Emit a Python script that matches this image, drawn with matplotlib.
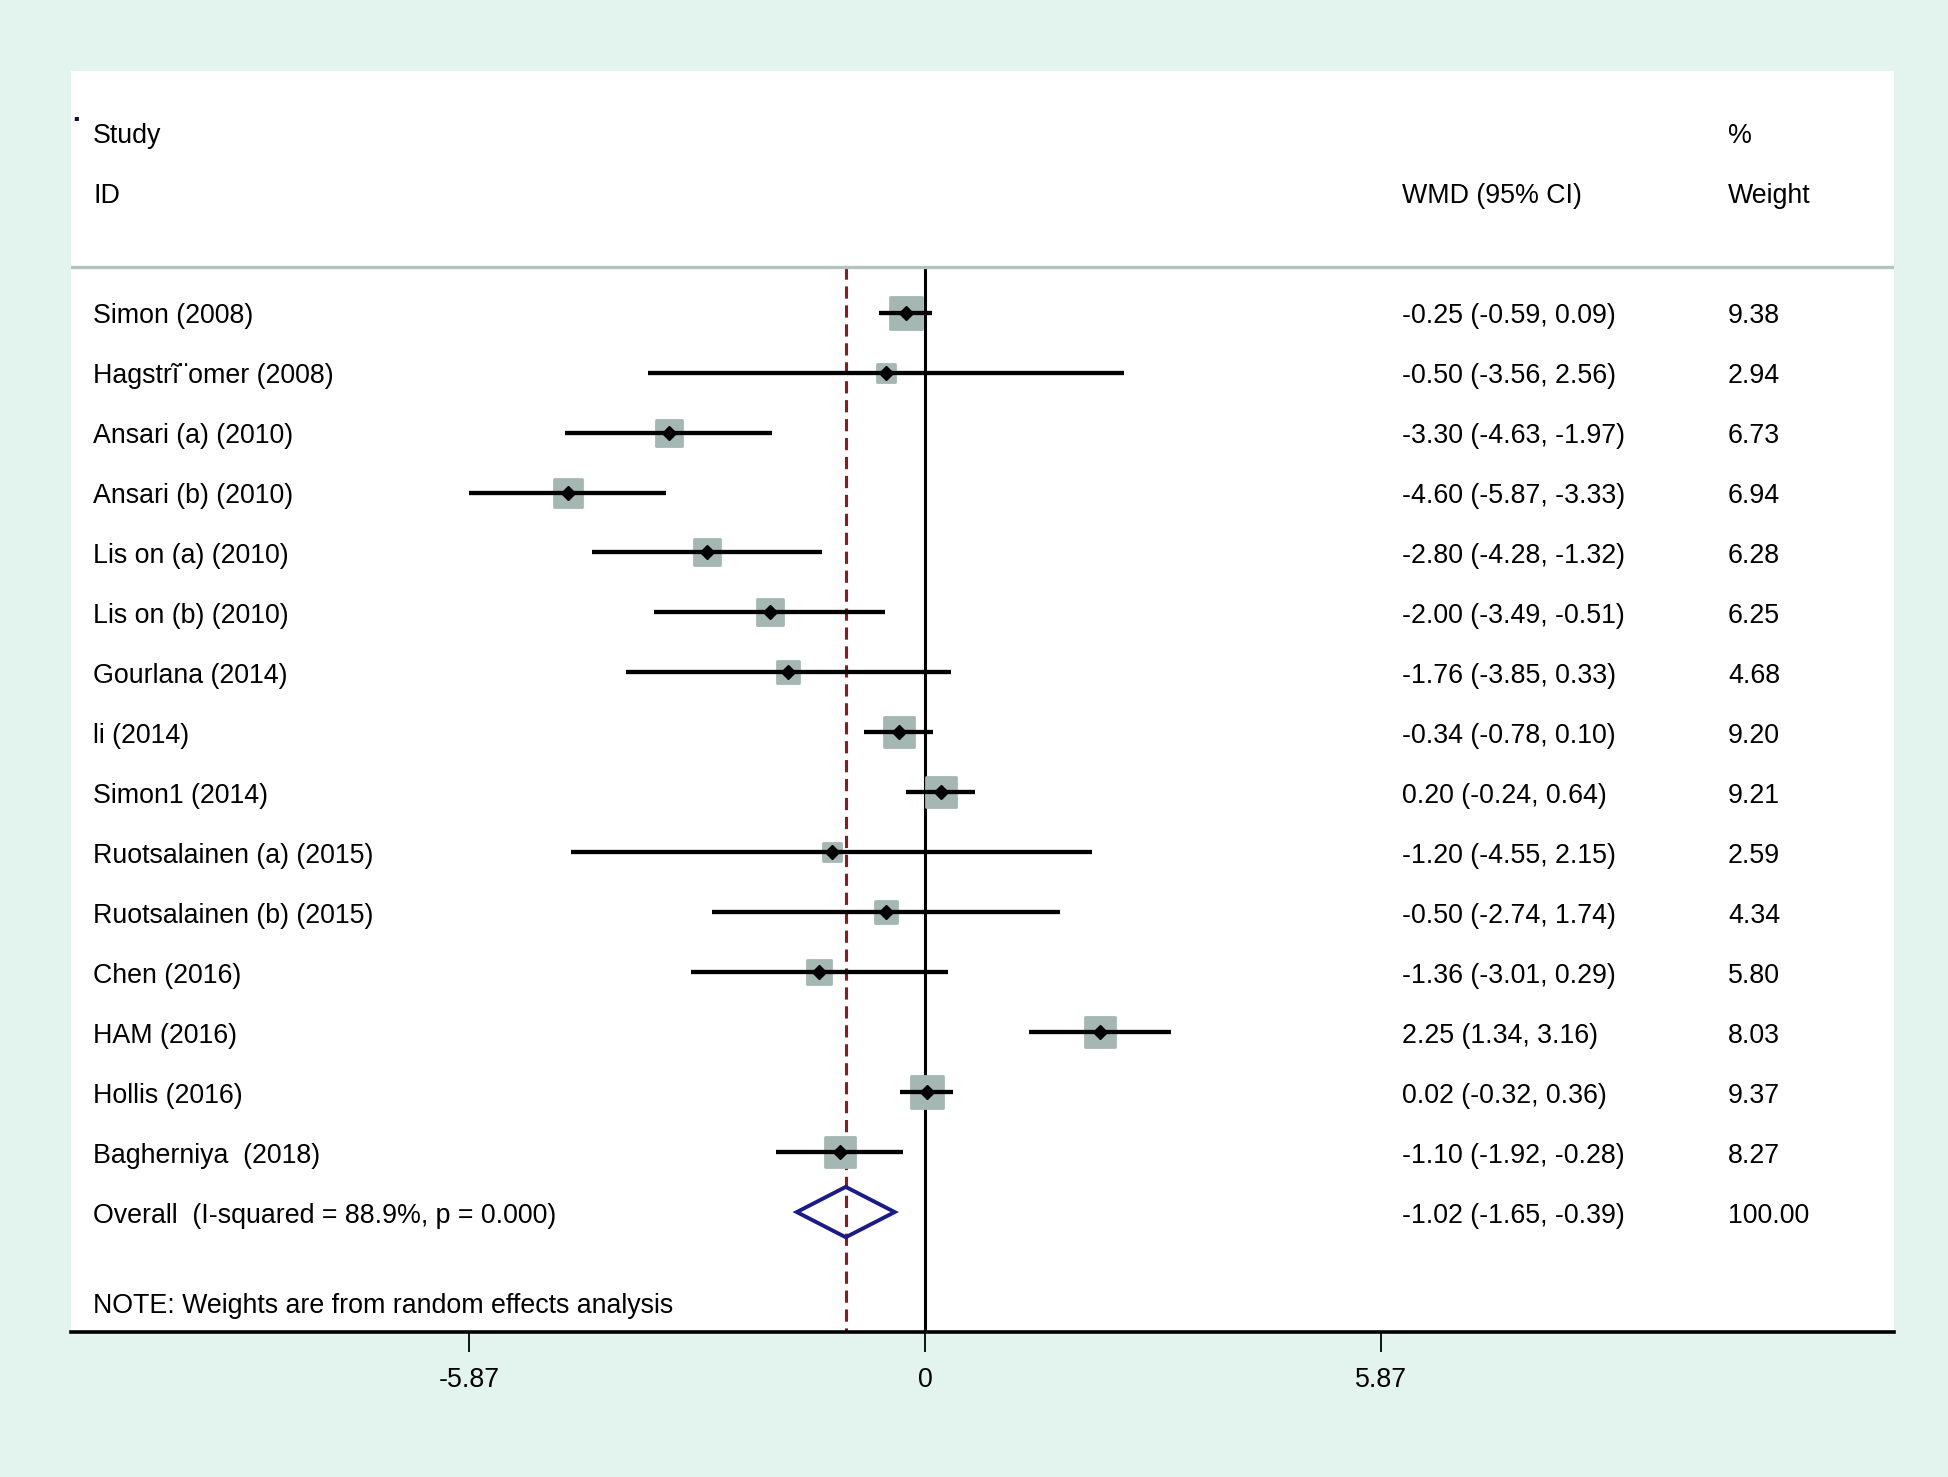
import matplotlib
matplotlib.use("Agg")
import matplotlib.pyplot as plt
from matplotlib.markers import MarkerStyle
import numpy as np

studies = ["Simon (2008)", "Hagstr\u0129\u00a8omer (2008)", "Ansari (a) (2010)", "Ansari (b) (2010)",
           "Lis on (a) (2010)", "Lis on (b) (2010)", "Gourlana (2014)", "li (2014)",
           "Simon1 (2014)", "Ruotsalainen (a) (2015)", "Ruotsalainen (b) (2015)", "Chen (2016)",
           "HAM (2016)", "Hollis (2016)", "Bagherniya  (2018)"]
est = [-0.25, -0.50, -3.30, -4.60, -2.80, -2.00, -1.76, -0.34, 0.20, -1.20, -0.50, -1.36, 2.25, 0.02, -1.10]
lo = [-0.59, -3.56, -4.63, -5.87, -4.28, -3.49, -3.85, -0.78, -0.24, -4.55, -2.74, -3.01, 1.34, -0.32, -1.92]
hi = [0.09, 2.56, -1.97, -3.33, -1.32, -0.51, 0.33, 0.10, 0.64, 2.15, 1.74, 0.29, 3.16, 0.36, -0.28]
weights = [9.38, 2.94, 6.73, 6.94, 6.28, 6.25, 4.68, 9.20, 9.21, 2.59, 4.34, 5.80, 8.03, 9.37, 8.27]

overall_label = "Overall  (I-squared = 88.9%, p = 0.000)"
overall_est, overall_lo, overall_hi, overall_w = -1.02, -1.65, -0.39, 100.00
note = "NOTE: Weights are from random effects analysis"
xticks = [-5.87, 0, 5.87]
xticklabels = ["-5.87", "0", "5.87"]

FONT = "Liberation Sans"
FS = 19.3
BG = "#e3f3ed"
BOX = "#a5b7b2"

fig = plt.figure(figsize=(19.48, 14.77), dpi=100)
fig.patch.set_facecolor(BG)
ax = fig.add_axes([71/1948, 1 - 1332/1477, (1894-71)/1948, (1332-71)/1477])
ax.set_facecolor("white")

ax.set_xlim(-10.99, 12.47)
ax.set_ylim(18, -3.03)

n = len(studies)
rows = np.arange(1, n + 1)
row_overall = n + 1
top_line = 0.233
toff = 0.06  # text vertical offset (rows)

# reference lines
ax.vlines(0, top_line, 18, color="black", lw=2.2, zorder=2)
ax.vlines(overall_est, top_line, 18, color="#8c1a1f", lw=2.2,
          linestyles=(0, (4.0, 2.2)), zorder=2)

# header separator
ax.axhline(top_line, color="#b3c4c0", lw=2.4, zorder=2)

# boxes
ms_style = MarkerStyle("s", joinstyle="round")
for r, e, w in zip(rows, est, weights):
    side_px = 4.5 + 9.63 * np.sqrt(w)
    side_pt = side_px * 0.72
    ax.plot([e], [r], marker=ms_style, markersize=side_pt - 2.0, color=BOX,
            markeredgecolor=BOX, markeredgewidth=2.0, zorder=3, linestyle="none")

# CI lines
ax.hlines(rows, lo, hi, color="black", lw=3.1, zorder=4, capstyle="butt")
# point estimates
ax.plot(est, rows, marker="D", markersize=7, color="black", linestyle="none", zorder=5)

# overall diamond
dh = 0.42
ax.fill([overall_lo, overall_est, overall_hi, overall_est],
        [row_overall, row_overall - dh, row_overall, row_overall + dh],
        facecolor="none", edgecolor="#1a1a8a", lw=2.8, zorder=5, joinstyle="miter")

tr = ax.get_yaxis_transform()
x_lab, x_wmd, x_wt = 0.0121, 0.730, 0.909
txt = dict(fontsize=FS, family=FONT, va="center", transform=tr, color="black")

ax.text(x_lab, -2.0 + toff, "Study", **txt)
ax.text(x_lab, -1.0 + toff, "ID", **txt)
ax.text(x_wmd, -1.0 + toff, "WMD (95% CI)", **txt)
ax.text(x_wt, -2.0 + toff, "%", **txt)
ax.text(x_wt, -1.0 + toff, "Weight", **txt)
ax.text(0.0026, -2.25, "\u25aa", fontsize=6, family="DejaVu Sans", ha="center", va="center",
        transform=tr, color="#101030")

for r, s, e, l, h, w in zip(rows, studies, est, lo, hi, weights):
    ax.text(x_lab, r + toff, s, **txt)
    ax.text(x_wmd, r + toff, f"{e:.2f} ({l:.2f}, {h:.2f})", **txt)
    ax.text(x_wt, r + toff, f"{w:.2f}", **txt)

ax.text(x_lab, row_overall + toff, overall_label, **txt)
ax.text(x_wmd, row_overall + toff, f"{overall_est:.2f} ({overall_lo:.2f}, {overall_hi:.2f})", **txt)
ax.text(x_wt, row_overall + toff, f"{overall_w:.2f}", **txt)
ax.text(x_lab, 17.5 + toff, note, **txt)

for sp in ["top", "left", "right"]:
    ax.spines[sp].set_visible(False)
ax.spines["bottom"].set_linewidth(2.6)
ax.spines["bottom"].set_color("black")
ax.set_yticks([])
ax.set_xticks(xticks)
ax.set_xticklabels(xticklabels, fontsize=FS, family=FONT)
ax.tick_params(axis="x", direction="out", length=14.5, width=1.3, pad=10.5, colors="black")

fig.savefig("out.png", dpi=100, facecolor=BG)
